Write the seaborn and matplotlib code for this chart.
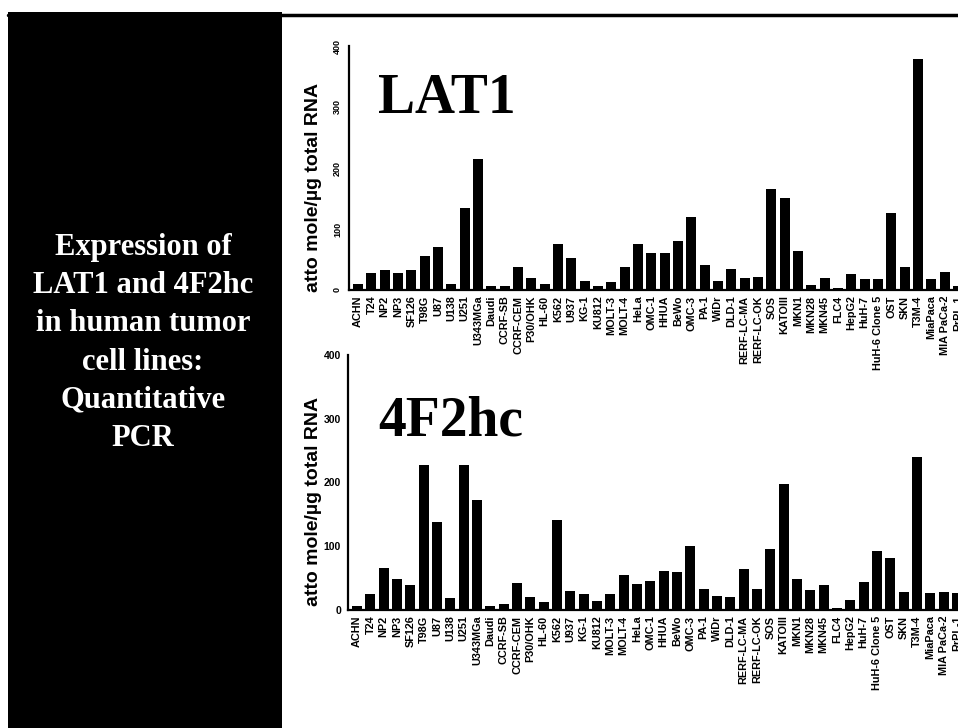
import matplotlib
matplotlib.use("Agg")
import matplotlib.pyplot as plt
import seaborn as sns
import pandas as pd
from matplotlib.patches import Rectangle
from matplotlib.lines import Line2D

cell_lines = ["ACHN", "T24", "NP2", "NP3", "SF126", "T98G", "U87", "U138", "U251", "U343MGa",
              "Daudi", "CCRF-SB", "CCRF-CEM", "P30/OHK", "HL-60", "K562", "U937", "KG-1", "KU812", "MOLT-3",
              "MOLT-4", "HeLa", "OMC-1", "HHUA", "BeWo", "OMC-3", "PA-1", "WiDr", "DLD-1", "RERF-LC-MA",
              "RERF-LC-OK", "SOS", "KATOIII", "MKN1", "MKN28", "MKN45", "FLC4", "HepG2", "HuH-7", "HuH-6 Clone 5",
              "OST", "SKN", "T3M-4", "MiaPaca", "MIA PaCa-2", "RrPL-1"]

lat1 = [10, 28, 33, 28, 33, 55, 71, 10, 134, 214,
        6, 7, 37, 19, 10, 75, 52, 14, 6, 13,
        37, 75, 61, 61, 80, 119, 41, 15, 35, 19,
        22, 166, 151, 64, 9, 19, 4, 27, 18, 18,
        126, 37, 378, 18, 29, 7]

f2hc = [6, 25, 66, 48, 40, 227, 138, 19, 227, 173,
        6, 9, 42, 21, 13, 141, 30, 25, 14, 25,
        55, 41, 46, 61, 59, 101, 33, 22, 20, 65,
        33, 95, 198, 49, 32, 39, 3, 16, 44, 93,
        81, 29, 240, 27, 29, 26]

yticks = [0, 100, 200, 300, 400]
ylabel = "atto mole/µg total RNA"
panel_lines = ["Expression of", "LAT1 and 4F2hc", "in human tumor", "cell lines:", "Quantitative", "PCR"]
titles = ["LAT1", "4F2hc"]

W, H = 958, 728
sns.set_style("white")
plt.rcParams["font.family"] = ["Liberation Sans", "DejaVu Sans"]
plt.rcParams["text.color"] = "black"
plt.rcParams["axes.labelcolor"] = "black"
plt.rcParams["xtick.color"] = "black"
plt.rcParams["ytick.color"] = "black"

fig = plt.figure(figsize=(W / 100, H / 100), dpi=100)
fig.patch.set_facecolor("white")

def fx(px):
    return px / W

def fy(py):
    return (H - py) / H

# black left panel and top rule
fig.patches.append(Rectangle((fx(8), 0), fx(282) - fx(8), fy(12), transform=fig.transFigure,
                             facecolor="black", edgecolor="none", zorder=0))
fig.lines.append(Line2D([fx(8), 1.0], [fy(15), fy(15)], transform=fig.transFigure,
                        color="black", linewidth=2.5))

for i, line in enumerate(panel_lines):
    fig.text(fx(143), fy(255 + 38.2 * i), line, color="white", fontsize=22, fontweight="bold",
             family=["Liberation Serif", "DejaVu Serif"], ha="center", va="baseline")

xmin, xmax = -0.68, 46.5
unit = 13.33
specs = [
    # (values, left px, bottom px, top px, title baseline, rotate yticks)
    (lat1, 349, 290, 46, 113, True),
    (f2hc, 348, 610, 355, 435, False),
]

for (vals, left, bot, top, tbase, rot), title in zip(specs, titles):
    width_px = (xmax - xmin) * unit
    ax = fig.add_axes([fx(left), fy(bot), fx(width_px), (bot - top) / H])
    df = pd.DataFrame({"cell": cell_lines, "val": vals})
    sns.barplot(data=df, x="cell", y="val", ax=ax, color="black", saturation=1,
                width=0.75, edgecolor="none")
    ax.set_xlim(xmin, xmax)
    ax.set_ylim(0, 400)
    ax.set_yticks(yticks)
    ax.set_xlabel("")
    ax.set_ylabel("")
    ax.set_facecolor("none")
    for s in ["top", "right"]:
        ax.spines[s].set_visible(False)
    for s in ["left", "bottom"]:
        ax.spines[s].set_color("black")
        ax.spines[s].set_linewidth(1.6)
    ax.tick_params(axis="x", length=2, width=1, pad=2, colors="black")
    ax.tick_params(axis="y", length=3, width=1, pad=2, colors="black", direction="out")
    ax.set_xticks(range(len(cell_lines)))
    ax.set_xticklabels(cell_lines, rotation=90, fontsize=7.8, fontweight="bold")
    if rot:
        ax.set_yticklabels([str(t) for t in yticks], rotation=90, fontsize=6.5, fontweight="bold",
                           va="center")
    else:
        ax.set_yticklabels([str(t) for t in yticks], fontsize=7.5, fontweight="bold")
    fig.text(fx(314), fy((top + bot) / 2 + 19), ylabel, rotation=90, fontsize=14,
             fontweight="bold", ha="center", va="center", color="black")
    fig.text(fx(378), fy(tbase), title, fontsize=40, fontweight="bold", color="black",
             family=["Liberation Serif", "DejaVu Serif"], ha="left", va="baseline")

fig.savefig("out.png", dpi=100)
